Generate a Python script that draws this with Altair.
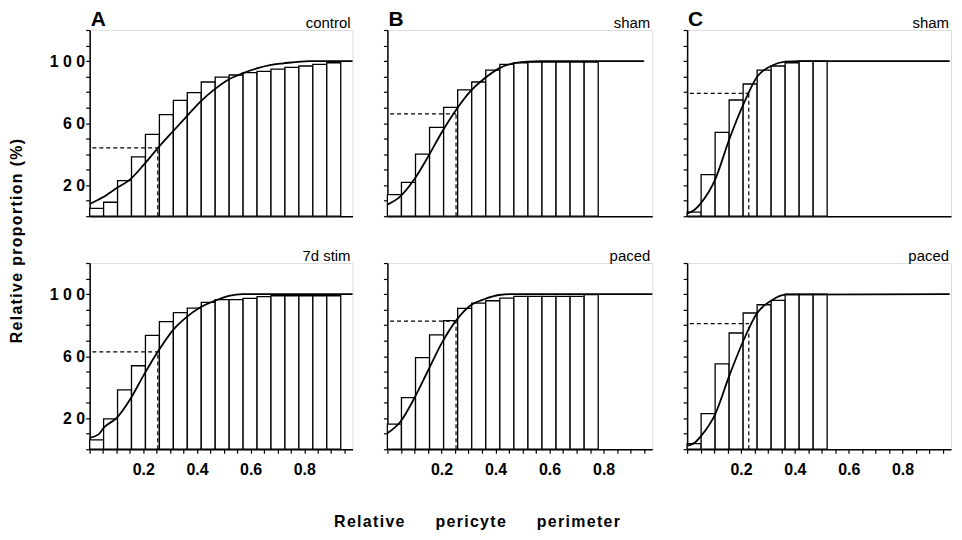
import altair as alt
import pandas as pd

# ---------------- data ----------------
BIN_WIDTH = 0.052
X_MAX = 0.98

# cumulative histogram bar heights (%)
bars_A_top = [5, 9, 23, 38.3, 52.7, 65.5, 74.7, 79.6, 86.5, 89.7, 91.0, 92.5, 93.3, 94.8, 95.9, 96.8, 97.8, 98.9]
bars_B_top = [13.9, 21.8, 40.0, 57.2, 70.2, 81.4, 86.5, 94.2, 97.9, 98.9, 99.4, 99.4, 99.4, 99.4, 99.4]
bars_C_top = [2.6, 26.8, 54.0, 74.9, 85.2, 94.2, 96.8, 98.9, 100, 100]
bars_A_bot = [6.0, 19.6, 38.3, 53.8, 73.4, 82.3, 88.1, 90.9, 94.7, 96.4, 96.4, 97.2, 98.3, 98.9, 98.9, 98.9, 98.9, 98.9]
bars_B_bot = [16.2, 33.3, 59.0, 73.7, 82.9, 90.8, 94.2, 95.7, 97.4, 98.5, 98.5, 98.5, 98.5, 98.5, 99.6]
bars_C_bot = [3.6, 22.9, 55.0, 74.9, 87.8, 93.1, 95.9, 100, 100, 100]

# fitted cumulative curves
curve_A_top_x = [0, 0.049, 0.101, 0.150, 0.202, 0.254, 0.310, 0.361, 0.413, 0.463, 0.515, 0.570, 0.623, 0.672, 0.722, 0.820, 0.98]
curve_A_top_y = [7.9, 12.2, 18.2, 23.6, 33.2, 43.9, 54.6, 64.2, 73.9, 81.4, 87.8, 92.1, 95.3, 97.4, 98.5, 100, 100]
curve_B_top_x = [0, 0.048, 0.099, 0.151, 0.203, 0.254, 0.306, 0.360, 0.413, 0.465, 0.516, 0.568, 0.95]
curve_B_top_y = [7.5, 12.8, 23.6, 38.5, 54.6, 68.5, 80.3, 88.9, 95.3, 98.5, 99.6, 100, 100]
curve_C_top_x = [0, 0.029, 0.052, 0.104, 0.156, 0.208, 0.260, 0.312, 0.364, 0.416, 0.975]
curve_C_top_y = [1.7, 4.3, 8.6, 23.6, 49.3, 71.7, 89.9, 96.8, 99.6, 100, 100]
curve_A_bot_x = [0, 0.033, 0.052, 0.101, 0.150, 0.202, 0.254, 0.310, 0.361, 0.413, 0.466, 0.519, 0.570, 0.98]
curve_A_bot_y = [7.4, 9.6, 13.8, 20.2, 31.9, 47.9, 62.8, 76.6, 85.1, 91.5, 95.7, 98.9, 100, 100]
curve_B_bot_x = [0, 0.048, 0.099, 0.151, 0.203, 0.254, 0.306, 0.360, 0.413, 0.465, 0.98]
curve_B_bot_y = [10.3, 17.7, 32.7, 50.9, 69.0, 82.9, 92.5, 96.8, 99.4, 100, 100]
curve_C_bot_x = [0, 0.029, 0.052, 0.104, 0.156, 0.208, 0.260, 0.312, 0.364, 0.975]
curve_C_bot_y = [2.1, 4.3, 8.6, 22.5, 47.1, 69.6, 87.8, 95.7, 99.6, 100]

# dashed reference lines (x, y)
dash_A_top = (0.254, 44.0)
dash_B_top = (0.254, 66.0)
dash_C_top = (0.229, 79.2)
dash_A_bot = (0.254, 62.7)
dash_B_bot = (0.254, 82.5)
dash_C_bot = (0.229, 80.9)

letters = ["A", "B", "C"]
conditions_top = ["control", "sham", "sham"]
conditions_bot = ["7d stim", "paced", "paced"]

x_tick_values = [0.0, 0.05, 0.1, 0.15, 0.2, 0.25, 0.3, 0.35, 0.4, 0.45,
                 0.5, 0.55, 0.6, 0.65, 0.7, 0.75, 0.8, 0.85, 0.9, 0.95]
y_tick_values = [0, 10, 20, 30, 40, 50, 60, 70, 80, 90, 100, 110, 120]

y_title_words = ["Relative", "proportion", "(%)"]
x_title_words = ["Relative", "pericyte", "perimeter"]

# ---------------- styling ----------------
FONT = "Liberation Sans, Arial, Helvetica, sans-serif"
NARROW = "Liberation Sans Narrow, Liberation Sans, Arial, sans-serif"
PANEL_H = 187
HAIR = "\u200a"
NBSP = "\u00a0"


def spaced(words, gap):
    return gap.join(HAIR.join(w) for w in words)


y_title = spaced(y_title_words, HAIR + NBSP + HAIR)
x_title = spaced(x_title_words, NBSP * 7)


def make_panel(bars, cx, cy, dash, letter, cond, bottom, first_col, width):
    n = len(bars)
    bar_df = pd.DataFrame({
        "x0": [i * BIN_WIDTH for i in range(n)],
        "x1": [(i + 1) * BIN_WIDTH for i in range(n)],
        "y0": [0] * n,
        "y": bars,
    })
    curve_df = pd.DataFrame({"x": cx, "y": cy})
    xs = alt.Scale(domain=[0, X_MAX], nice=False, zero=False)
    ys = alt.Scale(domain=[0, 120], nice=False, zero=False)

    if bottom:
        xaxis = alt.Axis(
            values=x_tick_values, title=None, grid=False,
            labelExpr="datum.value > 0.15 && abs(datum.value*5 - round(datum.value*5)) < 0.001 ? format(datum.value, '.1f') : ''",
            tickSize=4, tickColor="black", tickWidth=1.2,
            domainColor="black", domainWidth=1.5,
            labelFont=NARROW, labelFontSize=16, labelFontWeight="bold",
            labelColor="black", labelPadding=8, labelFlush=False,
        )
    else:
        xaxis = alt.Axis(
            values=[], ticks=False, labels=False, title=None, grid=False,
            domainColor="black", domainWidth=1.5,
        )
    if first_col:
        yaxis = alt.Axis(
            values=y_tick_values, title=None, grid=False,
            labelExpr="datum.value == 100 ? '1 0 0' : datum.value == 60 ? '6 0' : datum.value == 20 ? '2 0' : ''",
            tickSize=4, tickColor="black", tickWidth=1.2,
            domainColor="black", domainWidth=1.5,
            labelFont=FONT, labelFontSize=16, labelFontWeight="bold",
            labelColor="black", labelPadding=1,
        )
    else:
        yaxis = alt.Axis(
            values=y_tick_values, title=None, grid=False, labels=False,
            tickSize=4, tickColor="black", tickWidth=1.2,
            domainColor="black", domainWidth=1.5,
        )

    bars_layer = alt.Chart(bar_df).mark_rect(
        fill="white", stroke="black", strokeWidth=1.3
    ).encode(
        x=alt.X("x0:Q", scale=xs, axis=xaxis),
        x2="x1:Q",
        y=alt.Y("y0:Q", scale=ys, axis=yaxis),
        y2="y:Q",
    )
    curve_layer = alt.Chart(curve_df).mark_line(
        color="black", strokeWidth=1.8, interpolate="monotone"
    ).encode(
        x=alt.X("x:Q", scale=xs, axis=xaxis),
        y=alt.Y("y:Q", scale=ys, axis=yaxis),
    )
    hdash = alt.Chart(pd.DataFrame({"x0": [0.01], "x1": [dash[0]], "y": [dash[1]]})).mark_rule(
        color="black", strokeWidth=1.2, strokeDash=[4, 3]
    ).encode(
        x=alt.X("x0:Q", scale=xs, axis=xaxis),
        x2="x1:Q",
        y=alt.Y("y:Q", scale=ys, axis=yaxis),
    )
    vdash = alt.Chart(pd.DataFrame({"x": [dash[0]], "y0": [0], "y1": [dash[1]]})).mark_rule(
        color="black", strokeWidth=1.2, strokeDash=[4, 3]
    ).encode(
        x=alt.X("x:Q", scale=xs, axis=xaxis),
        y=alt.Y("y0:Q", scale=ys, axis=yaxis),
        y2="y1:Q",
    )
    cond_layer = alt.Chart(pd.DataFrame({"t": [cond]})).mark_text(
        align="right", baseline="middle", font=FONT, fontSize=15, color="black"
    ).encode(text="t:N", x=alt.value(width - 2), y=alt.value(-7))

    layers = [bars_layer, curve_layer, hdash, vdash, cond_layer]
    if letter is not None:
        letter_layer = alt.Chart(pd.DataFrame({"t": [letter]})).mark_text(
            align="left", baseline="alphabetic", font=FONT, fontSize=21,
            fontWeight="bold", color="black"
        ).encode(text="t:N", x=alt.value(1), y=alt.value(-4))
        layers.append(letter_layer)
    return alt.layer(*layers).properties(width=width, height=PANEL_H)


widths = [264, 266, 265]

A_top = make_panel(bars_A_top, curve_A_top_x, curve_A_top_y, dash_A_top, letters[0], conditions_top[0], False, True, widths[0])
B_top = make_panel(bars_B_top, curve_B_top_x, curve_B_top_y, dash_B_top, letters[1], conditions_top[1], False, False, widths[1])
C_top = make_panel(bars_C_top, curve_C_top_x, curve_C_top_y, dash_C_top, letters[2], conditions_top[2], False, False, widths[2])
A_bot = make_panel(bars_A_bot, curve_A_bot_x, curve_A_bot_y, dash_A_bot, None, conditions_bot[0], True, True, widths[0])
B_bot = make_panel(bars_B_bot, curve_B_bot_x, curve_B_bot_y, dash_B_bot, None, conditions_bot[1], True, False, widths[1])
C_bot = make_panel(bars_C_bot, curve_C_bot_x, curve_C_bot_y, dash_C_bot, None, conditions_bot[2], True, False, widths[2])

# figure-level titles as text marks (flush bounds keep layout fixed)
ytitle_layer = alt.Chart(pd.DataFrame({"t": [y_title]})).mark_text(
    angle=270, align="center", baseline="middle", font=FONT, fontSize=16,
    fontWeight="bold", color="black"
).encode(text="t:N", x=alt.value(-73), y=alt.value(212))
A_top = alt.layer(A_top, ytitle_layer)

xtitle_layer = alt.Chart(pd.DataFrame({"t": [x_title]})).mark_text(
    align="center", baseline="middle", font=FONT, fontSize=16,
    fontWeight="bold", color="black"
).encode(text="t:N", x=alt.value(90), y=alt.value(260))
B_bot = alt.layer(B_bot, xtitle_layer)

chart = alt.concat(
    A_top, B_top, C_top, A_bot, B_bot, C_bot,
    columns=3,
    spacing={"row": 47, "column": 35},
    bounds="flush",
).properties(
    padding={"top": -1, "left": 0, "right": 0, "bottom": 0}
).configure_view(stroke=None).configure(background="white")

chart.save("out.html", embed_options={"renderer": "svg", "actions": False})
